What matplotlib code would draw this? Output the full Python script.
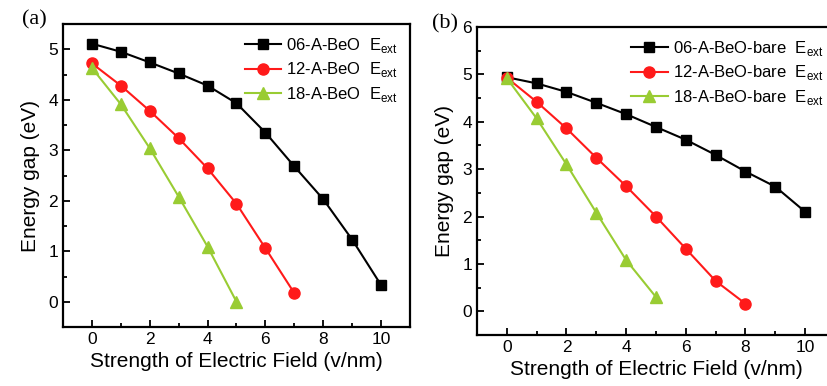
import matplotlib
matplotlib.use("Agg")
import matplotlib.pyplot as plt

plt.rcParams["font.family"] = ["Liberation Sans", "DejaVu Sans"]
plt.rcParams["mathtext.fontset"] = "custom"
plt.rcParams["mathtext.rm"] = "Liberation Sans"

# panel (a)
a_x06 = [0, 1, 2, 3, 4, 5, 6, 7, 8, 9, 10]
a_y06 = [5.11, 4.95, 4.74, 4.52, 4.28, 3.93, 3.35, 2.68, 2.03, 1.23, 0.33]
a_x12 = [0, 1, 2, 3, 4, 5, 6, 7]
a_y12 = [4.72, 4.28, 3.78, 3.24, 2.64, 1.94, 1.06, 0.17]
a_x18 = [0, 1, 2, 3, 4, 5]
a_y18 = [4.63, 3.91, 3.04, 2.08, 1.09, 0.0]
a_labels = ["06-A-BeO  E$_{\\mathrm{ext}}$", "12-A-BeO  E$_{\\mathrm{ext}}$",
            "18-A-BeO  E$_{\\mathrm{ext}}$"]

# panel (b)
b_x06 = [0, 1, 2, 3, 4, 5, 6, 7, 8, 9, 10]
b_y06 = [4.94, 4.81, 4.63, 4.40, 4.16, 3.89, 3.62, 3.30, 2.95, 2.63, 2.10]
b_x12 = [0, 1, 2, 3, 4, 5, 6, 7, 8]
b_y12 = [4.93, 4.42, 3.86, 3.24, 2.64, 2.00, 1.32, 0.64, 0.16]
b_x18 = [0, 1, 2, 3, 4, 5]
b_y18 = [4.92, 4.07, 3.10, 2.08, 1.08, 0.30]
b_labels = ["06-A-BeO-bare  E$_{\\mathrm{ext}}$", "12-A-BeO-bare  E$_{\\mathrm{ext}}$",
            "18-A-BeO-bare  E$_{\\mathrm{ext}}$"]

COLORS = ["#000000", "#ff1a1a", "#99cc33"]
MARKERS = ["s", "o", "^"]
MSIZES = [7, 8, 8.5]

fig = plt.figure(figsize=(8.28, 3.86), dpi=100)
W, H = 828, 386


def px_axes(left, top, right, bottom):
    return fig.add_axes([left / W, 1 - bottom / H, (right - left) / W, (bottom - top) / H])


def style(ax, ylim, yticks):
    ax.set_xlim(-1, 11)
    ax.set_ylim(*ylim)
    ax.set_xticks([0, 2, 4, 6, 8, 10])
    ax.set_xticks([1, 3, 5, 7, 9], minor=True)
    ax.set_yticks(yticks)
    ax.set_yticks([v + 0.5 for v in yticks[:-1]], minor=True)
    ax.tick_params(which="both", direction="in", top=False, right=False, labelsize=12.5, width=1.3)
    ax.tick_params(which="major", length=5)
    ax.tick_params(which="minor", length=3)
    for s in ax.spines.values():
        s.set_linewidth(1.6)
    ax.set_xlabel("Strength of Electric Field (v/nm)", fontsize=15, labelpad=4)
    ax.set_ylabel("Energy gap (eV)", fontsize=15, labelpad=6)


def draw(ax, series, labels):
    for (x, y), lab, c, m, ms in zip(series, labels, COLORS, MARKERS, MSIZES):
        ax.plot(x, y, color=c, marker=m, markersize=ms, linewidth=1.5, label=lab)
    ax.legend(loc="upper right", frameon=False, fontsize=12, handlelength=2.2,
              handletextpad=0.3, labelspacing=0.35, borderaxespad=0.3)


ax1 = px_axes(63, 24, 410, 327)
draw(ax1, [(a_x06, a_y06), (a_x12, a_y12), (a_x18, a_y18)], a_labels)
style(ax1, (-0.5, 5.5), [0, 1, 2, 3, 4, 5])
fig.text(22 / W, 1 - 20 / H, "(a)", fontsize=16, family="Liberation Serif", va="center")

ax2 = px_axes(477, 27, 835, 335)
draw(ax2, [(b_x06, b_y06), (b_x12, b_y12), (b_x18, b_y18)], b_labels)
style(ax2, (-0.5, 6), [0, 1, 2, 3, 4, 5, 6])
fig.text(432 / W, 1 - 24 / H, "(b)", fontsize=16, family="Liberation Serif", va="center")

fig.savefig("out.png", dpi=100)
